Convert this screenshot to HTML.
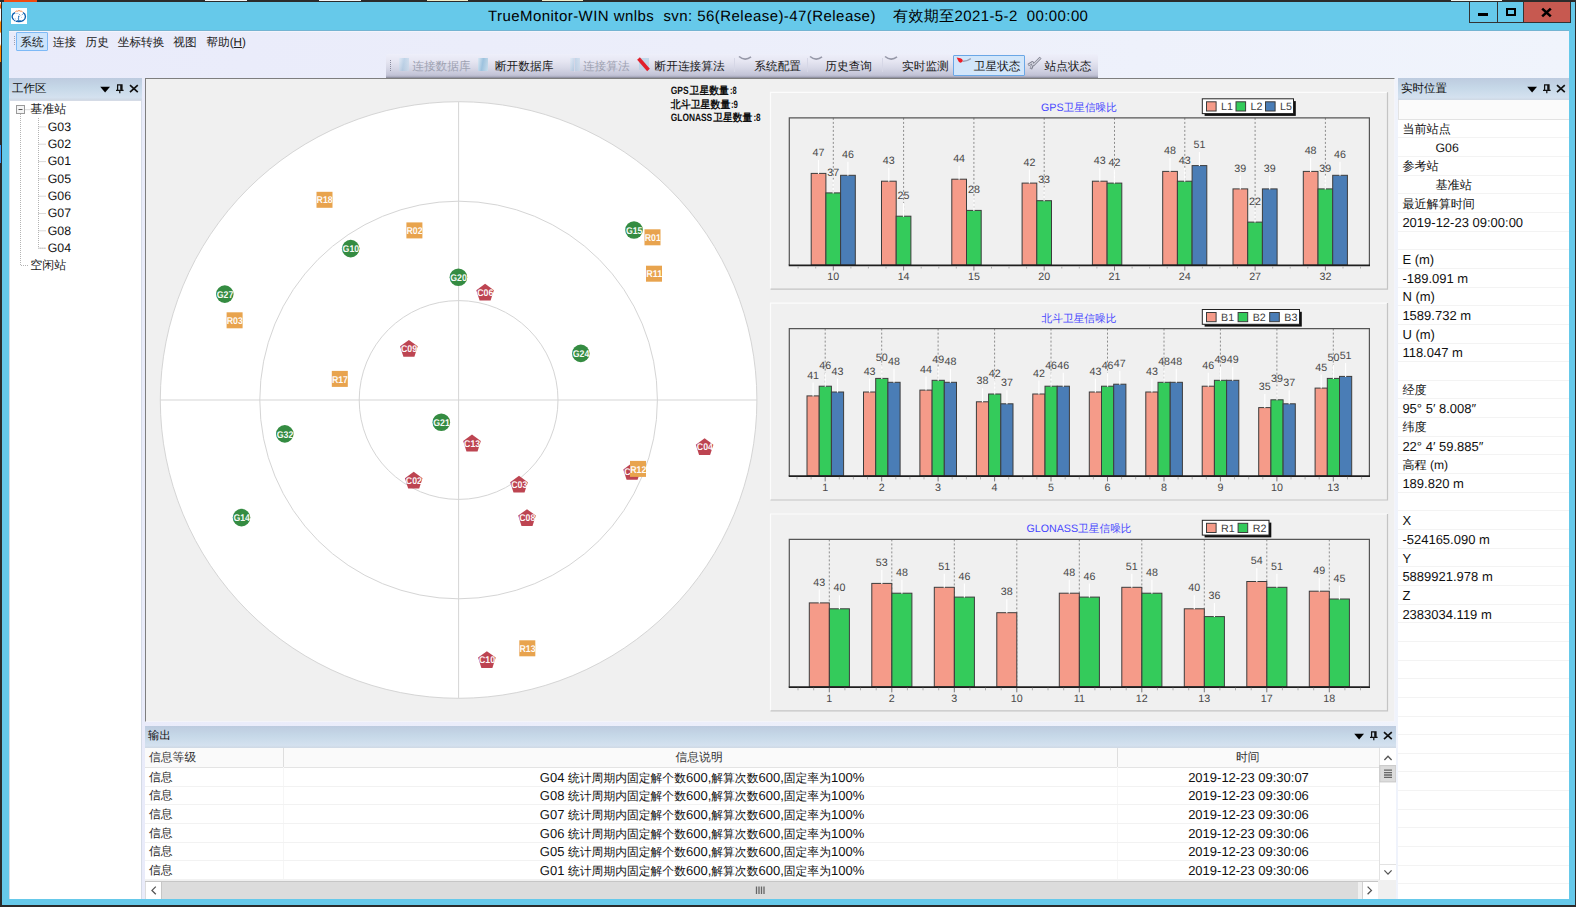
<!DOCTYPE html><html><head><meta charset="utf-8"><title>TrueMonitor-WIN</title>
<style>
html,body{margin:0;padding:0;}
body{width:1576px;height:907px;overflow:hidden;background:#2b2b2b;position:relative;
 font-family:"Liberation Sans",sans-serif;font-size:12px;color:#000;text-rendering:geometricPrecision;}
.a{position:absolute;}
.t{position:absolute;white-space:nowrap;line-height:1;}
.win{left:2px;top:2px;width:1573px;height:903px;background:#66C9EA;}
.client{left:9px;top:30.5px;width:1560px;height:868.5px;background:linear-gradient(90deg,#E9EBFA 0%,#ECEEFA 45%,#F0F4FC 100%);}
.hdr{height:21.5px;background:linear-gradient(180deg,#BDCBDF 0%,#C6D8E8 45%,#D4E1EF 88%,#CFD8E4 100%);}
.hdr .t{top:5.6px;font-size:11.5px;color:#111}
.row{position:absolute;left:0;right:0;border-bottom:1px solid #F3F3F3;box-sizing:border-box;}
svg{position:absolute;left:0;top:0;overflow:visible;}
svg text{font-family:"Liberation Sans",sans-serif;}
</style></head><body>
<div class="a" style="left:4px;top:0;width:32.5px;height:1.6px;background:#F04A10"></div>
<div class="a" style="left:204.6px;top:0;width:42.4px;height:1px;background:#F4F4F4"></div>
<div class="a" style="left:319px;top:0;width:42.0px;height:1px;background:#F4F4F4"></div>
<div class="a" style="left:427px;top:0;width:41.0px;height:1px;background:#EFEBC8"></div>
<div class="a" style="left:541.6px;top:0;width:41.1px;height:1px;background:#EFEBC8"></div>
<div class="a" style="left:1451px;top:0;width:51.0px;height:1px;background:#F2F4EE"></div>
<div class="a" style="left:0;top:2px;width:1px;height:60px;background:linear-gradient(180deg,#fff 0,#F60 6%,#F60 10%,#fff 12%,#fff 30%,#F80 34%,#F80 50%,#fff 52%,#fff 70%,#F80 74%,#F80 100%)"></div>
<div class="a" style="left:0;top:145px;width:1px;height:18px;background:#39f"></div>
<div class="a win"></div>
<div class="a client"></div>
<div class="a" style="left:9px;top:29.8px;width:1560px;height:1px;background:#74B4D2"></div>
<div class="a" style="left:9px;top:30.8px;width:1560px;height:1px;background:#F3F4FC"></div>
<svg class="a" style="left:11px;top:8px" width="16" height="16" viewBox="0 0 16 16"><rect width="16" height="16" fill="#fff"/><path d="M4.0 4.6 C0.2 6.2 0.2 10.6 3.6 12.5 C6 13.9 9.6 13.9 12 12.6 C15.4 10.7 15.2 6.2 11.9 4.5" fill="none" stroke="#0A5FAE" stroke-width="1.35" stroke-dasharray="9 0.6 1.2 0.5 1.5 0.4 30"/><path d="M4.2 4.0 Q5.5 2.6 6.6 3.2 Q8.0 1.9 9.2 3.1 Q10.6 3.0 11.6 3.9" fill="none" stroke="#F0803C" stroke-width="0.95"/><path d="M6 13.1 H9.9" stroke="#0A5FAE" stroke-width="1.5"/><path d="M7.6 8.2 V12.4 M7 8.3 H8.6" stroke="#2C77BC" stroke-width="0.9"/><circle cx="8.4" cy="6.5" r="0.55" fill="#5C97CE"/><circle cx="11.4" cy="6.5" r="0.55" fill="#5C97CE"/><path d="M4.4 5.4 H7.6 M9.4 7.6 L10.4 7.2 M10 9.6 L10.9 9.2 M4.2 10.2 L4.3 11.6 M6.4 10.4 L6.8 10.8" stroke="#9DC0E2" stroke-width="0.8" fill="none"/></svg>
<div class="t" id="ttl1" style="left:488px;top:8.7px;font-size:15px;letter-spacing:0.44px">TrueMonitor-WIN wnlbs&nbsp; svn: 56(Release)-47(Release)</div>
<div class="t" id="ttl2" style="left:893px;top:8.7px;font-size:15px;letter-spacing:0.39px">有效期至2021-5-2&nbsp; 00:00:00</div>
<div class="a" style="left:1469px;top:1.5px;width:101.5px;height:21.5px;background:#333"></div>
<div class="a" style="left:1470px;top:2px;width:27px;height:20px;background:#66C9EA"></div>
<div class="a" style="left:1498px;top:2px;width:25px;height:20px;background:#66C9EA"></div>
<div class="a" style="left:1523.5px;top:2px;width:46.5px;height:20px;background:#C75950"></div>
<div class="a" style="left:1478px;top:13px;width:10px;height:3px;background:#000"></div>
<div class="a" style="left:1506px;top:8px;width:10px;height:8px;box-sizing:border-box;border:2px solid #000"></div>
<svg class="a" style="left:1541px;top:7.5px" width="11" height="9" viewBox="0 0 11 9"><path d="M1.2 0.6 L9.8 8.4 M9.8 0.6 L1.2 8.4" stroke="#000" stroke-width="2.6"/></svg>
<div class="a" style="left:14px;top:36px;width:1px;height:9px;border-left:1px dotted #9aa0b4"></div>
<div class="a" style="left:15.7px;top:32.3px;width:32.6px;height:18.6px;box-sizing:border-box;background:#CCE4FC;border:1px solid #7DB9F6;border-radius:1px"></div>
<div class="t mn" style="left:20.2px;top:37.3px;font-size:11.7px;color:#222">系统</div>
<div class="t mn" style="left:52.800000000000004px;top:37.3px;font-size:11.7px;color:#222">连接</div>
<div class="t mn" style="left:85.5px;top:37.3px;font-size:11.7px;color:#222">历史</div>
<div class="t mn" style="left:117.7px;top:37.3px;font-size:11.7px;color:#222">坐标转换</div>
<div class="t mn" style="left:173.29999999999998px;top:37.3px;font-size:11.7px;color:#222">视图</div>
<div class="t mn" style="left:206.3px;top:37.3px;font-size:11.7px;color:#222">帮助(<u>H</u>)</div>
<div class="a" style="left:386px;top:54px;width:712px;height:24px;background:linear-gradient(180deg,#EEEFFA 0%,#E6E6F2 30%,#D6D7E6 60%,#C2C3D6 88%,#AAABBE 95%,#80818f 100%);border-radius:2px 2px 0 0"></div>
<div class="a" style="left:389.5px;top:60px;width:1px;height:11px;border-left:1px dotted #8a8c9e"></div>
<div class="a" style="left:953.4px;top:55px;width:71.3px;height:21px;box-sizing:border-box;background:#D2E6FA;border:1px solid #6AA7E6;border-radius:1px"></div>
<div class="t tbt" style="left:412.20000000000005px;top:61.2px;font-size:11.7px;color:#9ea2b2">连接数据库</div>
<div class="t tbt" style="left:494.90000000000003px;top:61.2px;font-size:11.7px;color:#1a1a1a">断开数据库</div>
<div class="t tbt" style="left:582.9px;top:61.2px;font-size:11.7px;color:#9ea2b2">连接算法</div>
<div class="t tbt" style="left:654.5px;top:61.2px;font-size:11.7px;color:#1a1a1a">断开连接算法</div>
<div class="t tbt" style="left:754.3000000000001px;top:61.2px;font-size:11.7px;color:#1a1a1a">系统配置</div>
<div class="t tbt" style="left:825.3000000000001px;top:61.2px;font-size:11.7px;color:#1a1a1a">历史查询</div>
<div class="t tbt" style="left:902.0px;top:61.2px;font-size:11.7px;color:#1a1a1a">实时监测</div>
<div class="t tbt" style="left:973.8000000000001px;top:61.2px;font-size:11.7px;color:#1a1a1a">卫星状态</div>
<div class="t tbt" style="left:1044.6px;top:61.2px;font-size:11.7px;color:#1a1a1a">站点状态</div>
<div class="a" style="left:399px;top:57.5px;width:10px;height:13px;opacity:0.55;background:linear-gradient(100deg,#DCE9F4 0%,#9DC2DE 45%,#C9DDEC 100%);"></div>
<div class="a" style="left:478px;top:57.5px;width:10px;height:13px;opacity:1;background:linear-gradient(100deg,#DCE9F4 0%,#9DC2DE 45%,#C9DDEC 100%);"></div>
<div class="a" style="left:570px;top:57.5px;width:10px;height:13px;opacity:0.5;background:linear-gradient(100deg,#DCE9F4 0%,#9DC2DE 45%,#C9DDEC 100%);"></div>
<svg class="a" style="left:636px;top:56px" width="16" height="16" viewBox="0 0 16 16"><rect x="3" y="2" width="10" height="12" fill="#B8D2E6" opacity=".8"/><path d="M2.5 2.5 L12.5 14" stroke="#E0202C" stroke-width="3.6"/></svg>
<svg class="a" style="left:737.5px;top:55px" width="14" height="8" viewBox="0 0 14 8"><path d="M1 1.5 Q7 6.5 13 1.8" fill="none" stroke="#9698a8" stroke-width="1.6"/></svg>
<svg class="a" style="left:808.5px;top:55px" width="14" height="8" viewBox="0 0 14 8"><path d="M1 1.5 Q7 6.5 13 1.8" fill="none" stroke="#9698a8" stroke-width="1.6"/></svg>
<svg class="a" style="left:883.5px;top:55px" width="14" height="8" viewBox="0 0 14 8"><path d="M1 1.5 Q7 6.5 13 1.8" fill="none" stroke="#9698a8" stroke-width="1.6"/></svg>
<svg class="a" style="left:956px;top:55.5px" width="16" height="9" viewBox="0 0 16 9"><path d="M6.5 5.2 Q10.5 5.6 14.8 2.6" fill="none" stroke="#9aa0b4" stroke-width="1.3"/><path d="M0.6 1.6 L4.5 2.2 Q8 3.6 6 6 Q4 7.6 2.6 5.6 Z" fill="#EE1C25"/></svg>
<svg class="a" style="left:1027px;top:56px" width="16" height="16" viewBox="0 0 16 16"><path d="M1.2 9.2 L5.4 6.4 L6.2 7.6 L3.8 13 M6 9.4 L13.6 1.6" fill="none" stroke="#7c7e8c" stroke-width="2.7" stroke-linejoin="round"/><path d="M1.6 9 L5.4 6.6 L5.8 7.6 L3.8 12.4 M6.2 9 L13.4 1.8" fill="none" stroke="#D4D5E0" stroke-width="1.1"/></svg>
<div class="a" style="left:573.8px;top:58px;width:1px;height:14px;background:#d6d7e6"></div>
<div class="a" style="left:734.0px;top:58px;width:1px;height:14px;background:#d6d7e6"></div>
<div class="a" style="left:806.5px;top:58px;width:1px;height:14px;background:#d6d7e6"></div>
<div class="a" style="left:881.5px;top:58px;width:1px;height:14px;background:#d6d7e6"></div>
<div class="a hdr" style="left:9px;top:78px;width:133px;"><div class="t" style="left:3px;">工作区</div><svg class="a" style="left:91px;top:5.5px" width="40" height="12" viewBox="0 0 40 12"><path d="M0.2 2.8 H10 L5.1 8.4 Z" fill="#000"/><path d="M17 0.9 H22 V5.8 M17.6 0.9 V5.8 M16 6.3 H23.6 M19.8 6.3 V9.3" fill="none" stroke="#111" stroke-width="1.25"/><rect x="20.2" y="0.9" width="1.8" height="5" fill="#111"/><path d="M30 1.2 L37.8 8.2 M37.8 1.2 L30 8.2" stroke="#111" stroke-width="1.7"/></svg></div>
<div class="a" style="left:9px;top:99.5px;width:133px;height:799.5px;background:#fff;box-sizing:border-box;border:1px solid #D5DBE6;border-bottom:none"></div>
<svg class="a" style="left:9px;top:78px" width="133" height="300"><path d="M11.5 36 V187.5 H20 M15.5 31.7 H21 M29.5 40 V170.2 H37" fill="none" stroke="#b4b4b4" stroke-width="1" stroke-dasharray="1 1"/><path d="M29.5 48.9 H37" stroke="#b4b4b4" stroke-width="1" stroke-dasharray="1 1"/><path d="M29.5 66.2 H37" stroke="#b4b4b4" stroke-width="1" stroke-dasharray="1 1"/><path d="M29.5 83.6 H37" stroke="#b4b4b4" stroke-width="1" stroke-dasharray="1 1"/><path d="M29.5 100.9 H37" stroke="#b4b4b4" stroke-width="1" stroke-dasharray="1 1"/><path d="M29.5 118.2 H37" stroke="#b4b4b4" stroke-width="1" stroke-dasharray="1 1"/><path d="M29.5 135.5 H37" stroke="#b4b4b4" stroke-width="1" stroke-dasharray="1 1"/><path d="M29.5 152.8 H37" stroke="#b4b4b4" stroke-width="1" stroke-dasharray="1 1"/><path d="M29.5 170.2 H37" stroke="#b4b4b4" stroke-width="1" stroke-dasharray="1 1"/><rect x="7.5" y="27.5" width="8" height="8" fill="#f4f4f4" stroke="#9a9a9a"/><path d="M9.5 31.5 H13.5" stroke="#555" stroke-width="1"/></svg>
<div class="t" style="left:30.3px;top:103.39999999999999px;font-size:12px;color:#222">基准站</div>
<div class="t trl" style="left:47.8px;top:120.7px;font-size:12.3px;color:#111">G03</div>
<div class="t trl" style="left:47.8px;top:138.0px;font-size:12.3px;color:#111">G02</div>
<div class="t trl" style="left:47.8px;top:155.4px;font-size:12.3px;color:#111">G01</div>
<div class="t trl" style="left:47.8px;top:172.7px;font-size:12.3px;color:#111">G05</div>
<div class="t trl" style="left:47.8px;top:190.0px;font-size:12.3px;color:#111">G06</div>
<div class="t trl" style="left:47.8px;top:207.3px;font-size:12.3px;color:#111">G07</div>
<div class="t trl" style="left:47.8px;top:224.6px;font-size:12.3px;color:#111">G08</div>
<div class="t trl" style="left:47.8px;top:242.0px;font-size:12.3px;color:#111">G04</div>
<div class="t" style="left:30.3px;top:259.3px;font-size:12px;color:#222">空闲站</div>
<div class="a hdr" style="left:1398px;top:78px;width:171px;"><div class="t" style="left:3px;">实时位置</div><svg class="a" style="left:129px;top:5.5px" width="40" height="12" viewBox="0 0 40 12"><path d="M0.2 2.8 H10 L5.1 8.4 Z" fill="#000"/><path d="M17 0.9 H22 V5.8 M17.6 0.9 V5.8 M16 6.3 H23.6 M19.8 6.3 V9.3" fill="none" stroke="#111" stroke-width="1.25"/><rect x="20.2" y="0.9" width="1.8" height="5" fill="#111"/><path d="M30 1.2 L37.8 8.2 M37.8 1.2 L30 8.2" stroke="#111" stroke-width="1.7"/></svg></div>
<div class="a" id="rp" style="left:1398px;top:99.5px;width:171px;height:799.5px;background:#fff;overflow:hidden">
<div class="a" style="left:0;top:0;width:171px;height:20.2px;box-sizing:border-box;background:#FBFBFB;border:1px solid #E3E3E3;border-top:none;border-right:none"></div>
<div class="row" style="top:20.25px;height:18.65px;"></div>
<div class="row" style="top:38.90px;height:18.65px;"></div>
<div class="row" style="top:57.55px;height:18.65px;"></div>
<div class="row" style="top:76.20px;height:18.65px;"></div>
<div class="row" style="top:94.85px;height:18.65px;"></div>
<div class="row" style="top:113.50px;height:18.65px;"></div>
<div class="row" style="top:132.15px;height:18.65px;"></div>
<div class="row" style="top:150.80px;height:18.65px;"></div>
<div class="row" style="top:169.45px;height:18.65px;"></div>
<div class="row" style="top:188.10px;height:18.65px;"></div>
<div class="row" style="top:206.75px;height:18.65px;"></div>
<div class="row" style="top:225.40px;height:18.65px;"></div>
<div class="row" style="top:244.05px;height:18.65px;"></div>
<div class="row" style="top:262.70px;height:18.65px;"></div>
<div class="row" style="top:281.35px;height:18.65px;"></div>
<div class="row" style="top:300.00px;height:18.65px;"></div>
<div class="row" style="top:318.65px;height:18.65px;"></div>
<div class="row" style="top:337.30px;height:18.65px;"></div>
<div class="row" style="top:355.95px;height:18.65px;"></div>
<div class="row" style="top:374.60px;height:18.65px;"></div>
<div class="row" style="top:393.25px;height:18.65px;"></div>
<div class="row" style="top:411.90px;height:18.65px;"></div>
<div class="row" style="top:430.55px;height:18.65px;"></div>
<div class="row" style="top:449.20px;height:18.65px;"></div>
<div class="row" style="top:467.85px;height:18.65px;"></div>
<div class="row" style="top:486.50px;height:18.65px;"></div>
<div class="row" style="top:505.15px;height:18.65px;"></div>
<div class="row" style="top:523.80px;height:18.65px;"></div>
<div class="row" style="top:542.45px;height:18.65px;"></div>
<div class="row" style="top:561.10px;height:18.65px;"></div>
<div class="row" style="top:579.75px;height:18.65px;"></div>
<div class="row" style="top:598.40px;height:18.65px;"></div>
<div class="row" style="top:617.05px;height:18.65px;"></div>
<div class="row" style="top:635.70px;height:18.65px;"></div>
<div class="row" style="top:654.35px;height:18.65px;"></div>
<div class="row" style="top:673.00px;height:18.65px;"></div>
<div class="row" style="top:691.65px;height:18.65px;"></div>
<div class="row" style="top:710.30px;height:18.65px;"></div>
<div class="row" style="top:728.95px;height:18.65px;"></div>
<div class="row" style="top:747.60px;height:18.65px;"></div>
<div class="row" style="top:766.25px;height:18.65px;"></div>
<div class="row" style="top:784.90px;height:18.65px;"></div>
<div class="row" style="top:803.55px;height:18.65px;"></div>
<div class="t rv" style="left:4.4px;top:23.5px;font-size:12.1px;color:#111">当前站点</div>
<div class="t rv" style="left:37.5px;top:42.1px;font-size:12.3px;color:#111">G06</div>
<div class="t rv" style="left:4.4px;top:60.8px;font-size:12.1px;color:#111">参考站</div>
<div class="t rv" style="left:37.5px;top:79.5px;font-size:12.1px;color:#111">基准站</div>
<div class="t rv" style="left:4.4px;top:98.1px;font-size:12.1px;color:#111">最近解算时间</div>
<div class="t rv" style="left:4.4px;top:116.3px;font-size:13.0px;color:#111">2019-12-23 09:00:00</div>
<div class="t rv" style="left:4.4px;top:153.6px;font-size:13.0px;color:#111">E (m)</div>
<div class="t rv" style="left:4.4px;top:172.3px;font-size:13.0px;color:#111">-189.091 m</div>
<div class="t rv" style="left:4.4px;top:190.9px;font-size:13.0px;color:#111">N (m)</div>
<div class="t rv" style="left:4.4px;top:209.6px;font-size:13.0px;color:#111">1589.732 m</div>
<div class="t rv" style="left:4.4px;top:228.2px;font-size:13.0px;color:#111">U (m)</div>
<div class="t rv" style="left:4.4px;top:246.9px;font-size:13.0px;color:#111">118.047 m</div>
<div class="t rv" style="left:4.4px;top:284.6px;font-size:12.1px;color:#111">经度</div>
<div class="t rv" style="left:4.4px;top:302.8px;font-size:13.0px;color:#111">95° 5′ 8.008″</div>
<div class="t rv" style="left:4.4px;top:321.9px;font-size:12.1px;color:#111">纬度</div>
<div class="t rv" style="left:4.4px;top:340.1px;font-size:13.0px;color:#111">22° 4′ 59.885″</div>
<div class="t rv" style="left:4.4px;top:359.2px;font-size:12.1px;color:#111">高程 (m)</div>
<div class="t rv" style="left:4.4px;top:377.4px;font-size:13.0px;color:#111">189.820 m</div>
<div class="t rv" style="left:4.4px;top:414.7px;font-size:13.0px;color:#111">X</div>
<div class="t rv" style="left:4.4px;top:433.4px;font-size:13.0px;color:#111">-524165.090 m</div>
<div class="t rv" style="left:4.4px;top:452.0px;font-size:13.0px;color:#111">Y</div>
<div class="t rv" style="left:4.4px;top:470.7px;font-size:13.0px;color:#111">5889921.978 m</div>
<div class="t rv" style="left:4.4px;top:489.3px;font-size:13.0px;color:#111">Z</div>
<div class="t rv" style="left:4.4px;top:508.0px;font-size:13.0px;color:#111">2383034.119 m</div>
</div>
<div class="a" style="left:145px;top:78px;width:1250px;height:644px;background:#F0F0F0;box-sizing:border-box;border-top:1.5px solid #7E7E7E;border-left:1.5px solid #7E7E7E;border-right:1px solid #F4F4F9;border-bottom:1px solid #F4F4F9"></div>
<svg width="1576" height="907" viewBox="0 0 1576 907"><circle cx="458.6" cy="400.0" r="298.3" fill="#fff" stroke="#D5D5D5" stroke-width="1"/><circle cx="458.6" cy="400.0" r="198.8" fill="none" stroke="#D5D5D5" stroke-width="1"/><circle cx="458.6" cy="400.0" r="99.4" fill="none" stroke="#D5D5D5" stroke-width="1"/><path d="M160.3 400.0 H756.9000000000001 M458.6 101.69999999999999 V698.3" stroke="#D5D5D5" stroke-width="1" fill="none"/><defs><clipPath id="k0"><rect x="316.5" y="191.8" width="16" height="16"/></clipPath><clipPath id="k1"><rect x="406.4" y="222.4" width="16" height="16"/></clipPath><clipPath id="k2"><circle cx="350.7" cy="248.6" r="8.8"/></clipPath><clipPath id="k3"><circle cx="458.4" cy="277.3" r="8.8"/></clipPath><clipPath id="k4"><circle cx="224.8" cy="294.1" r="8.8"/></clipPath><clipPath id="k5"><rect x="226.6" y="312.3" width="16" height="16"/></clipPath><clipPath id="k6"><rect x="400.3" y="339.3" width="17.2" height="17.5"/></clipPath><clipPath id="k7"><rect x="331.8" y="370.9" width="16" height="16"/></clipPath><clipPath id="k8"><circle cx="634.0" cy="230.0" r="8.8"/></clipPath><clipPath id="k9"><rect x="644.5" y="229.3" width="16" height="16"/></clipPath><clipPath id="k10"><rect x="646.0" y="265.7" width="16" height="16"/></clipPath><clipPath id="k11"><rect x="476.5" y="283.2" width="17.2" height="17.5"/></clipPath><clipPath id="k12"><circle cx="580.8" cy="353.4" r="8.8"/></clipPath><clipPath id="k13"><circle cx="441.3" cy="422.3" r="8.8"/></clipPath><clipPath id="k14"><circle cx="284.8" cy="433.9" r="8.8"/></clipPath><clipPath id="k15"><rect x="405.1" y="471.2" width="17.2" height="17.5"/></clipPath><clipPath id="k16"><circle cx="241.5" cy="517.6" r="8.8"/></clipPath><clipPath id="k17"><rect x="463.4" y="434.0" width="17.2" height="17.5"/></clipPath><clipPath id="k18"><rect x="696.0" y="437.7" width="17.2" height="17.5"/></clipPath><clipPath id="k19"><rect x="623.5" y="462.4" width="17.2" height="17.5"/></clipPath><clipPath id="k20"><rect x="630.0" y="460.9" width="16" height="16"/></clipPath><clipPath id="k21"><rect x="510.4" y="475.2" width="17.2" height="17.5"/></clipPath><clipPath id="k22"><rect x="518.4" y="508.6" width="17.2" height="17.5"/></clipPath><clipPath id="k23"><rect x="519.3" y="640.3" width="16" height="16"/></clipPath><clipPath id="k24"><rect x="478.3" y="650.6" width="17.2" height="17.5"/></clipPath></defs><rect x="316.5" y="191.8" width="16" height="16" fill="#E8A44E"/><text x="316.6" y="203.4" font-size="9.8" font-weight="bold" fill="#fff" textLength="16.1" lengthAdjust="spacingAndGlyphs" clip-path="url(#k0)" opacity=".95">R18</text><rect x="406.4" y="222.4" width="16" height="16" fill="#E8A44E"/><text x="406.5" y="234.0" font-size="9.8" font-weight="bold" fill="#fff" textLength="16.1" lengthAdjust="spacingAndGlyphs" clip-path="url(#k1)" opacity=".95">R02</text><circle cx="350.7" cy="248.6" r="8.8" fill="#358C42"/><text x="342.6" y="252.2" font-size="9.8" font-weight="bold" fill="#fff" textLength="16.6" lengthAdjust="spacingAndGlyphs" clip-path="url(#k2)" opacity=".95">G10</text><circle cx="458.4" cy="277.3" r="8.8" fill="#358C42"/><text x="450.3" y="280.9" font-size="9.8" font-weight="bold" fill="#fff" textLength="16.6" lengthAdjust="spacingAndGlyphs" clip-path="url(#k3)" opacity=".95">G20</text><circle cx="224.8" cy="294.1" r="8.8" fill="#358C42"/><text x="216.7" y="297.7" font-size="9.8" font-weight="bold" fill="#fff" textLength="16.6" lengthAdjust="spacingAndGlyphs" clip-path="url(#k4)" opacity=".95">G27</text><rect x="226.6" y="312.3" width="16" height="16" fill="#E8A44E"/><text x="226.7" y="323.9" font-size="9.8" font-weight="bold" fill="#fff" textLength="16.1" lengthAdjust="spacingAndGlyphs" clip-path="url(#k5)" opacity=".95">R03</text><polygon points="408.9,339.9 417.7,346.3 414.4,356.7 403.4,356.7 400.1,346.3" fill="#BD4552"/><text x="401.0" y="351.9" font-size="9.8" font-weight="bold" fill="#fff" textLength="16.1" lengthAdjust="spacingAndGlyphs" clip-path="url(#k6)" opacity=".95">C09</text><rect x="331.8" y="370.9" width="16" height="16" fill="#E8A44E"/><text x="331.9" y="382.5" font-size="9.8" font-weight="bold" fill="#fff" textLength="16.1" lengthAdjust="spacingAndGlyphs" clip-path="url(#k7)" opacity=".95">R17</text><circle cx="634.0" cy="230.0" r="8.8" fill="#358C42"/><text x="625.9" y="233.6" font-size="9.8" font-weight="bold" fill="#fff" textLength="16.6" lengthAdjust="spacingAndGlyphs" clip-path="url(#k8)" opacity=".95">G15</text><rect x="644.5" y="229.3" width="16" height="16" fill="#E8A44E"/><text x="644.7" y="240.9" font-size="9.8" font-weight="bold" fill="#fff" textLength="16.1" lengthAdjust="spacingAndGlyphs" clip-path="url(#k9)" opacity=".95">R01</text><rect x="646.0" y="265.7" width="16" height="16" fill="#E8A44E"/><text x="646.2" y="277.3" font-size="9.8" font-weight="bold" fill="#fff" textLength="16.1" lengthAdjust="spacingAndGlyphs" clip-path="url(#k10)" opacity=".95">R11</text><polygon points="485.1,283.8 493.9,290.2 490.6,300.6 479.6,300.6 476.3,290.2" fill="#BD4552"/><text x="477.2" y="295.8" font-size="9.8" font-weight="bold" fill="#fff" textLength="16.1" lengthAdjust="spacingAndGlyphs" clip-path="url(#k11)" opacity=".95">C06</text><circle cx="580.8" cy="353.4" r="8.8" fill="#358C42"/><text x="572.7" y="357.0" font-size="9.8" font-weight="bold" fill="#fff" textLength="16.6" lengthAdjust="spacingAndGlyphs" clip-path="url(#k12)" opacity=".95">G24</text><circle cx="441.3" cy="422.3" r="8.8" fill="#358C42"/><text x="433.2" y="425.9" font-size="9.8" font-weight="bold" fill="#fff" textLength="16.6" lengthAdjust="spacingAndGlyphs" clip-path="url(#k13)" opacity=".95">G21</text><circle cx="284.8" cy="433.9" r="8.8" fill="#358C42"/><text x="276.7" y="437.5" font-size="9.8" font-weight="bold" fill="#fff" textLength="16.6" lengthAdjust="spacingAndGlyphs" clip-path="url(#k14)" opacity=".95">G32</text><polygon points="413.7,471.8 422.5,478.2 419.2,488.6 408.2,488.6 404.9,478.2" fill="#BD4552"/><text x="405.8" y="483.8" font-size="9.8" font-weight="bold" fill="#fff" textLength="16.1" lengthAdjust="spacingAndGlyphs" clip-path="url(#k15)" opacity=".95">C02</text><circle cx="241.5" cy="517.6" r="8.8" fill="#358C42"/><text x="233.4" y="521.2" font-size="9.8" font-weight="bold" fill="#fff" textLength="16.6" lengthAdjust="spacingAndGlyphs" clip-path="url(#k16)" opacity=".95">G14</text><polygon points="472.0,434.6 480.8,441.0 477.5,451.4 466.5,451.4 463.2,441.0" fill="#BD4552"/><text x="464.1" y="446.6" font-size="9.8" font-weight="bold" fill="#fff" textLength="16.1" lengthAdjust="spacingAndGlyphs" clip-path="url(#k17)" opacity=".95">C13</text><polygon points="704.6,438.3 713.4,444.7 710.1,455.1 699.1,455.1 695.8,444.7" fill="#BD4552"/><text x="696.8" y="450.3" font-size="9.8" font-weight="bold" fill="#fff" textLength="16.1" lengthAdjust="spacingAndGlyphs" clip-path="url(#k18)" opacity=".95">C04</text><polygon points="632.1,463.0 640.9,469.4 637.6,479.8 626.6,479.8 623.3,469.4" fill="#BD4552"/><text x="624.3" y="475.0" font-size="9.8" font-weight="bold" fill="#fff" textLength="16.1" lengthAdjust="spacingAndGlyphs" clip-path="url(#k19)" opacity=".95">C01</text><rect x="630.0" y="460.9" width="16" height="16" fill="#E8A44E"/><text x="630.2" y="472.5" font-size="9.8" font-weight="bold" fill="#fff" textLength="16.1" lengthAdjust="spacingAndGlyphs" clip-path="url(#k20)" opacity=".95">R12</text><polygon points="519.0,475.8 527.8,482.2 524.5,492.6 513.5,492.6 510.2,482.2" fill="#BD4552"/><text x="511.2" y="487.8" font-size="9.8" font-weight="bold" fill="#fff" textLength="16.1" lengthAdjust="spacingAndGlyphs" clip-path="url(#k21)" opacity=".95">C03</text><polygon points="527.0,509.2 535.8,515.6 532.5,526.0 521.5,526.0 518.2,515.6" fill="#BD4552"/><text x="519.2" y="521.2" font-size="9.8" font-weight="bold" fill="#fff" textLength="16.1" lengthAdjust="spacingAndGlyphs" clip-path="url(#k22)" opacity=".95">C08</text><rect x="519.3" y="640.3" width="16" height="16" fill="#E8A44E"/><text x="519.5" y="651.9" font-size="9.8" font-weight="bold" fill="#fff" textLength="16.1" lengthAdjust="spacingAndGlyphs" clip-path="url(#k23)" opacity=".95">R13</text><polygon points="486.9,651.2 495.7,657.6 492.4,668.0 481.4,668.0 478.1,657.6" fill="#BD4552"/><text x="479.0" y="663.2" font-size="9.8" font-weight="bold" fill="#fff" textLength="16.1" lengthAdjust="spacingAndGlyphs" clip-path="url(#k24)" opacity=".95">C10</text></svg>
<svg width="1576" height="907" viewBox="0 0 1576 907"><text x="670.8" y="94.3" font-size="10.6" font-weight="bold" fill="#111" textLength="17.8" lengthAdjust="spacingAndGlyphs">GPS</text><text x="689.6" y="94.3" font-size="10.6" font-weight="bold" fill="#111" textLength="39.3" lengthAdjust="spacingAndGlyphs">卫星数量</text><text x="730.0" y="94.3" font-size="10.6" font-weight="bold" fill="#111" textLength="6.6" lengthAdjust="spacingAndGlyphs">:8</text><text x="670.8" y="107.9" font-size="10.6" font-weight="bold" fill="#111" textLength="59.5" lengthAdjust="spacingAndGlyphs">北斗卫星数量</text><text x="731.0" y="107.9" font-size="10.6" font-weight="bold" fill="#111" textLength="6.9" lengthAdjust="spacingAndGlyphs">:9</text><text x="670.8" y="121.2" font-size="10.6" font-weight="bold" fill="#111" textLength="41.4" lengthAdjust="spacingAndGlyphs">GLONASS</text><text x="713.3" y="121.2" font-size="10.6" font-weight="bold" fill="#111" textLength="38.9" lengthAdjust="spacingAndGlyphs">卫星数量</text><text x="753.4" y="121.2" font-size="10.6" font-weight="bold" fill="#111" textLength="7.2" lengthAdjust="spacingAndGlyphs">:8</text></svg>
<svg width="1576" height="907" viewBox="0 0 1576 907"><rect x="770.5" y="92.3" width="617.0" height="196.9" fill="#F0F0F0"/><path d="M770.5 289.2 V92.3 H1387.5" fill="none" stroke="#FCFCFC" stroke-width="1.2"/><path d="M770.5 289.2 H1387.5 V92.3" fill="none" stroke="#C4C4C4" stroke-width="1.2"/><path d="M833.3 117.9 V265.0" stroke="#8C8C8C" stroke-width="1" stroke-dasharray="2 2" fill="none"/><path d="M903.6 117.9 V265.0" stroke="#8C8C8C" stroke-width="1" stroke-dasharray="2 2" fill="none"/><path d="M973.9 117.9 V265.0" stroke="#8C8C8C" stroke-width="1" stroke-dasharray="2 2" fill="none"/><path d="M1044.2 117.9 V265.0" stroke="#8C8C8C" stroke-width="1" stroke-dasharray="2 2" fill="none"/><path d="M1114.5 117.9 V265.0" stroke="#8C8C8C" stroke-width="1" stroke-dasharray="2 2" fill="none"/><path d="M1184.8 117.9 V265.0" stroke="#8C8C8C" stroke-width="1" stroke-dasharray="2 2" fill="none"/><path d="M1255.1 117.9 V265.0" stroke="#8C8C8C" stroke-width="1" stroke-dasharray="2 2" fill="none"/><path d="M1325.4 117.9 V265.0" stroke="#8C8C8C" stroke-width="1" stroke-dasharray="2 2" fill="none"/><path d="M789.3 265.0 V117.9 H1369.4 V265.0" fill="none" stroke="#555555" stroke-width="1.2"/><rect x="811.2" y="173.4" width="14.7" height="91.6" fill="#F59B89" stroke="#3C3C3C" stroke-width="1"/><rect x="825.9" y="192.9" width="14.7" height="72.1" fill="#34CB5B" stroke="#3C3C3C" stroke-width="1"/><rect x="840.6" y="175.3" width="14.7" height="89.7" fill="#4A7DB6" stroke="#3C3C3C" stroke-width="1"/><rect x="881.5" y="181.2" width="14.7" height="83.8" fill="#F59B89" stroke="#3C3C3C" stroke-width="1"/><rect x="896.2" y="216.2" width="14.7" height="48.8" fill="#34CB5B" stroke="#3C3C3C" stroke-width="1"/><rect x="951.8" y="179.2" width="14.7" height="85.8" fill="#F59B89" stroke="#3C3C3C" stroke-width="1"/><rect x="966.5" y="210.4" width="14.7" height="54.6" fill="#34CB5B" stroke="#3C3C3C" stroke-width="1"/><rect x="1022.1" y="183.1" width="14.7" height="81.9" fill="#F59B89" stroke="#3C3C3C" stroke-width="1"/><rect x="1036.8" y="200.7" width="14.7" height="64.3" fill="#34CB5B" stroke="#3C3C3C" stroke-width="1"/><rect x="1092.4" y="181.2" width="14.7" height="83.8" fill="#F59B89" stroke="#3C3C3C" stroke-width="1"/><rect x="1107.1" y="183.1" width="14.7" height="81.9" fill="#34CB5B" stroke="#3C3C3C" stroke-width="1"/><rect x="1162.7" y="171.4" width="14.7" height="93.6" fill="#F59B89" stroke="#3C3C3C" stroke-width="1"/><rect x="1177.4" y="181.2" width="14.7" height="83.8" fill="#34CB5B" stroke="#3C3C3C" stroke-width="1"/><rect x="1192.1" y="165.6" width="14.7" height="99.4" fill="#4A7DB6" stroke="#3C3C3C" stroke-width="1"/><rect x="1233.0" y="188.9" width="14.7" height="76.1" fill="#F59B89" stroke="#3C3C3C" stroke-width="1"/><rect x="1247.7" y="222.1" width="14.7" height="42.9" fill="#34CB5B" stroke="#3C3C3C" stroke-width="1"/><rect x="1262.4" y="188.9" width="14.7" height="76.1" fill="#4A7DB6" stroke="#3C3C3C" stroke-width="1"/><rect x="1303.3" y="171.4" width="14.7" height="93.6" fill="#F59B89" stroke="#3C3C3C" stroke-width="1"/><rect x="1318.0" y="188.9" width="14.7" height="76.1" fill="#34CB5B" stroke="#3C3C3C" stroke-width="1"/><rect x="1332.7" y="175.3" width="14.7" height="89.7" fill="#4A7DB6" stroke="#3C3C3C" stroke-width="1"/><path d="M788.6999999999999 265.3 H1370.0" stroke="#1E1E1E" stroke-width="1.7"/><path d="M798.1 266.0 v2.5" stroke="#B0B0B0" stroke-width="1"/><path d="M815.7 266.0 v2.5" stroke="#B0B0B0" stroke-width="1"/><path d="M833.3 266.0 v4.5" stroke="#7A7A7A" stroke-width="1"/><path d="M850.9 266.0 v2.5" stroke="#B0B0B0" stroke-width="1"/><path d="M868.4 266.0 v2.5" stroke="#B0B0B0" stroke-width="1"/><path d="M886.0 266.0 v2.5" stroke="#B0B0B0" stroke-width="1"/><path d="M903.6 266.0 v4.5" stroke="#7A7A7A" stroke-width="1"/><path d="M921.2 266.0 v2.5" stroke="#B0B0B0" stroke-width="1"/><path d="M938.8 266.0 v2.5" stroke="#B0B0B0" stroke-width="1"/><path d="M956.3 266.0 v2.5" stroke="#B0B0B0" stroke-width="1"/><path d="M973.9 266.0 v4.5" stroke="#7A7A7A" stroke-width="1"/><path d="M991.5 266.0 v2.5" stroke="#B0B0B0" stroke-width="1"/><path d="M1009.0 266.0 v2.5" stroke="#B0B0B0" stroke-width="1"/><path d="M1026.6 266.0 v2.5" stroke="#B0B0B0" stroke-width="1"/><path d="M1044.2 266.0 v4.5" stroke="#7A7A7A" stroke-width="1"/><path d="M1061.8 266.0 v2.5" stroke="#B0B0B0" stroke-width="1"/><path d="M1079.3 266.0 v2.5" stroke="#B0B0B0" stroke-width="1"/><path d="M1096.9 266.0 v2.5" stroke="#B0B0B0" stroke-width="1"/><path d="M1114.5 266.0 v4.5" stroke="#7A7A7A" stroke-width="1"/><path d="M1132.1 266.0 v2.5" stroke="#B0B0B0" stroke-width="1"/><path d="M1149.6 266.0 v2.5" stroke="#B0B0B0" stroke-width="1"/><path d="M1167.2 266.0 v2.5" stroke="#B0B0B0" stroke-width="1"/><path d="M1184.8 266.0 v4.5" stroke="#7A7A7A" stroke-width="1"/><path d="M1202.4 266.0 v2.5" stroke="#B0B0B0" stroke-width="1"/><path d="M1219.9 266.0 v2.5" stroke="#B0B0B0" stroke-width="1"/><path d="M1237.5 266.0 v2.5" stroke="#B0B0B0" stroke-width="1"/><path d="M1255.1 266.0 v4.5" stroke="#7A7A7A" stroke-width="1"/><path d="M1272.7 266.0 v2.5" stroke="#B0B0B0" stroke-width="1"/><path d="M1290.2 266.0 v2.5" stroke="#B0B0B0" stroke-width="1"/><path d="M1307.8 266.0 v2.5" stroke="#B0B0B0" stroke-width="1"/><path d="M1325.4 266.0 v4.5" stroke="#7A7A7A" stroke-width="1"/><path d="M1343.0 266.0 v2.5" stroke="#B0B0B0" stroke-width="1"/><path d="M1360.5 266.0 v2.5" stroke="#B0B0B0" stroke-width="1"/><path d="M818.5 159.9 V173.9" stroke="#fff" stroke-width="1.15"/><text x="818.5" y="156.0" font-size="10.7" fill="#484848" text-anchor="middle">47</text><path d="M833.2 179.4 V193.4" stroke="#fff" stroke-width="1.15"/><text x="833.2" y="175.5" font-size="10.7" fill="#484848" text-anchor="middle">37</text><path d="M847.9 161.8 V175.8" stroke="#fff" stroke-width="1.15"/><text x="847.9" y="157.9" font-size="10.7" fill="#484848" text-anchor="middle">46</text><path d="M888.8 167.7 V181.7" stroke="#fff" stroke-width="1.15"/><text x="888.8" y="163.8" font-size="10.7" fill="#484848" text-anchor="middle">43</text><path d="M903.5 202.8 V216.8" stroke="#fff" stroke-width="1.15"/><text x="903.5" y="198.8" font-size="10.7" fill="#484848" text-anchor="middle">25</text><path d="M959.1 165.7 V179.7" stroke="#fff" stroke-width="1.15"/><text x="959.1" y="161.8" font-size="10.7" fill="#484848" text-anchor="middle">44</text><path d="M973.9 196.9 V210.9" stroke="#fff" stroke-width="1.15"/><text x="973.9" y="193.0" font-size="10.7" fill="#484848" text-anchor="middle">28</text><path d="M1029.4 169.6 V183.6" stroke="#fff" stroke-width="1.15"/><text x="1029.4" y="165.7" font-size="10.7" fill="#484848" text-anchor="middle">42</text><path d="M1044.1 187.2 V201.2" stroke="#fff" stroke-width="1.15"/><text x="1044.1" y="183.2" font-size="10.7" fill="#484848" text-anchor="middle">33</text><path d="M1099.8 167.7 V181.7" stroke="#fff" stroke-width="1.15"/><text x="1099.8" y="163.8" font-size="10.7" fill="#484848" text-anchor="middle">43</text><path d="M1114.4 169.6 V183.6" stroke="#fff" stroke-width="1.15"/><text x="1114.4" y="165.7" font-size="10.7" fill="#484848" text-anchor="middle">42</text><path d="M1170.0 157.9 V171.9" stroke="#fff" stroke-width="1.15"/><text x="1170.0" y="154.0" font-size="10.7" fill="#484848" text-anchor="middle">48</text><path d="M1184.7 167.7 V181.7" stroke="#fff" stroke-width="1.15"/><text x="1184.7" y="163.8" font-size="10.7" fill="#484848" text-anchor="middle">43</text><path d="M1199.4 152.1 V166.1" stroke="#fff" stroke-width="1.15"/><text x="1199.4" y="148.2" font-size="10.7" fill="#484848" text-anchor="middle">51</text><path d="M1240.3 175.4 V189.4" stroke="#fff" stroke-width="1.15"/><text x="1240.3" y="171.5" font-size="10.7" fill="#484848" text-anchor="middle">39</text><path d="M1255.0 208.6 V222.6" stroke="#fff" stroke-width="1.15"/><text x="1255.0" y="204.7" font-size="10.7" fill="#484848" text-anchor="middle">22</text><path d="M1269.7 175.4 V189.4" stroke="#fff" stroke-width="1.15"/><text x="1269.7" y="171.5" font-size="10.7" fill="#484848" text-anchor="middle">39</text><path d="M1310.6 157.9 V171.9" stroke="#fff" stroke-width="1.15"/><text x="1310.6" y="154.0" font-size="10.7" fill="#484848" text-anchor="middle">48</text><path d="M1325.3 175.4 V189.4" stroke="#fff" stroke-width="1.15"/><text x="1325.3" y="171.5" font-size="10.7" fill="#484848" text-anchor="middle">39</text><path d="M1340.0 161.8 V175.8" stroke="#fff" stroke-width="1.15"/><text x="1340.0" y="157.9" font-size="10.7" fill="#484848" text-anchor="middle">46</text><text x="833.3" y="279.7" font-size="10.7" fill="#484848" text-anchor="middle">10</text><text x="903.6" y="279.7" font-size="10.7" fill="#484848" text-anchor="middle">14</text><text x="973.9" y="279.7" font-size="10.7" fill="#484848" text-anchor="middle">15</text><text x="1044.2" y="279.7" font-size="10.7" fill="#484848" text-anchor="middle">20</text><text x="1114.5" y="279.7" font-size="10.7" fill="#484848" text-anchor="middle">21</text><text x="1184.8" y="279.7" font-size="10.7" fill="#484848" text-anchor="middle">24</text><text x="1255.1" y="279.7" font-size="10.7" fill="#484848" text-anchor="middle">27</text><text x="1325.4" y="279.7" font-size="10.7" fill="#484848" text-anchor="middle">32</text><text x="1079" y="110.9" font-size="10.7" fill="#4646FF" text-anchor="middle">GPS卫星信噪比</text><rect x="1204.6" y="101.1" width="91.2" height="14.8" fill="#111"/><rect x="1202.3" y="98.8" width="91.2" height="14.8" fill="#fff" stroke="#222" stroke-width="1"/><rect x="1206.5" y="101.8" width="9.6" height="9.2" fill="#F59B89" stroke="#3C3C3C" stroke-width="1"/><text x="1221.1" y="110.4" font-size="10.7" fill="#404040">L1</text><rect x="1236.0" y="101.8" width="9.6" height="9.2" fill="#34CB5B" stroke="#3C3C3C" stroke-width="1"/><text x="1250.6" y="110.4" font-size="10.7" fill="#404040">L2</text><rect x="1265.5" y="101.8" width="9.6" height="9.2" fill="#4A7DB6" stroke="#3C3C3C" stroke-width="1"/><text x="1280.1" y="110.4" font-size="10.7" fill="#404040">L5</text></svg>
<svg width="1576" height="907" viewBox="0 0 1576 907"><rect x="770.5" y="303.15" width="617.0" height="196.9" fill="#F0F0F0"/><path d="M770.5 500.0 V303.1 H1387.5" fill="none" stroke="#FCFCFC" stroke-width="1.2"/><path d="M770.5 500.0 H1387.5 V303.1" fill="none" stroke="#C4C4C4" stroke-width="1.2"/><path d="M825.2 328.6 V475.9" stroke="#8C8C8C" stroke-width="1" stroke-dasharray="2 2" fill="none"/><path d="M881.7 328.6 V475.9" stroke="#8C8C8C" stroke-width="1" stroke-dasharray="2 2" fill="none"/><path d="M938.1 328.6 V475.9" stroke="#8C8C8C" stroke-width="1" stroke-dasharray="2 2" fill="none"/><path d="M994.6 328.6 V475.9" stroke="#8C8C8C" stroke-width="1" stroke-dasharray="2 2" fill="none"/><path d="M1051.0 328.6 V475.9" stroke="#8C8C8C" stroke-width="1" stroke-dasharray="2 2" fill="none"/><path d="M1107.5 328.6 V475.9" stroke="#8C8C8C" stroke-width="1" stroke-dasharray="2 2" fill="none"/><path d="M1164.0 328.6 V475.9" stroke="#8C8C8C" stroke-width="1" stroke-dasharray="2 2" fill="none"/><path d="M1220.4 328.6 V475.9" stroke="#8C8C8C" stroke-width="1" stroke-dasharray="2 2" fill="none"/><path d="M1276.9 328.6 V475.9" stroke="#8C8C8C" stroke-width="1" stroke-dasharray="2 2" fill="none"/><path d="M1333.3 328.6 V475.9" stroke="#8C8C8C" stroke-width="1" stroke-dasharray="2 2" fill="none"/><path d="M789.3 475.9 V328.6 H1369.4 V475.9" fill="none" stroke="#555555" stroke-width="1.2"/><rect x="807.0" y="395.9" width="12.2" height="79.9" fill="#F59B89" stroke="#3C3C3C" stroke-width="1"/><rect x="819.2" y="386.2" width="12.2" height="89.7" fill="#34CB5B" stroke="#3C3C3C" stroke-width="1"/><rect x="831.4" y="392.0" width="12.2" height="83.9" fill="#4A7DB6" stroke="#3C3C3C" stroke-width="1"/><rect x="863.5" y="392.0" width="12.2" height="83.9" fill="#F59B89" stroke="#3C3C3C" stroke-width="1"/><rect x="875.7" y="378.4" width="12.2" height="97.5" fill="#34CB5B" stroke="#3C3C3C" stroke-width="1"/><rect x="887.9" y="382.3" width="12.2" height="93.6" fill="#4A7DB6" stroke="#3C3C3C" stroke-width="1"/><rect x="919.9" y="390.1" width="12.2" height="85.8" fill="#F59B89" stroke="#3C3C3C" stroke-width="1"/><rect x="932.1" y="380.3" width="12.2" height="95.6" fill="#34CB5B" stroke="#3C3C3C" stroke-width="1"/><rect x="944.3" y="382.3" width="12.2" height="93.6" fill="#4A7DB6" stroke="#3C3C3C" stroke-width="1"/><rect x="976.4" y="401.8" width="12.2" height="74.1" fill="#F59B89" stroke="#3C3C3C" stroke-width="1"/><rect x="988.6" y="394.0" width="12.2" height="81.9" fill="#34CB5B" stroke="#3C3C3C" stroke-width="1"/><rect x="1000.8" y="403.8" width="12.2" height="72.1" fill="#4A7DB6" stroke="#3C3C3C" stroke-width="1"/><rect x="1032.8" y="394.0" width="12.2" height="81.9" fill="#F59B89" stroke="#3C3C3C" stroke-width="1"/><rect x="1045.0" y="386.2" width="12.2" height="89.7" fill="#34CB5B" stroke="#3C3C3C" stroke-width="1"/><rect x="1057.2" y="386.2" width="12.2" height="89.7" fill="#4A7DB6" stroke="#3C3C3C" stroke-width="1"/><rect x="1089.3" y="392.0" width="12.2" height="83.9" fill="#F59B89" stroke="#3C3C3C" stroke-width="1"/><rect x="1101.5" y="386.2" width="12.2" height="89.7" fill="#34CB5B" stroke="#3C3C3C" stroke-width="1"/><rect x="1113.7" y="384.2" width="12.2" height="91.6" fill="#4A7DB6" stroke="#3C3C3C" stroke-width="1"/><rect x="1145.8" y="392.0" width="12.2" height="83.9" fill="#F59B89" stroke="#3C3C3C" stroke-width="1"/><rect x="1158.0" y="382.3" width="12.2" height="93.6" fill="#34CB5B" stroke="#3C3C3C" stroke-width="1"/><rect x="1170.2" y="382.3" width="12.2" height="93.6" fill="#4A7DB6" stroke="#3C3C3C" stroke-width="1"/><rect x="1202.2" y="386.2" width="12.2" height="89.7" fill="#F59B89" stroke="#3C3C3C" stroke-width="1"/><rect x="1214.4" y="380.3" width="12.2" height="95.6" fill="#34CB5B" stroke="#3C3C3C" stroke-width="1"/><rect x="1226.6" y="380.3" width="12.2" height="95.6" fill="#4A7DB6" stroke="#3C3C3C" stroke-width="1"/><rect x="1258.7" y="407.6" width="12.2" height="68.2" fill="#F59B89" stroke="#3C3C3C" stroke-width="1"/><rect x="1270.9" y="399.8" width="12.2" height="76.1" fill="#34CB5B" stroke="#3C3C3C" stroke-width="1"/><rect x="1283.1" y="403.8" width="12.2" height="72.1" fill="#4A7DB6" stroke="#3C3C3C" stroke-width="1"/><rect x="1315.1" y="388.1" width="12.2" height="87.8" fill="#F59B89" stroke="#3C3C3C" stroke-width="1"/><rect x="1327.3" y="378.4" width="12.2" height="97.5" fill="#34CB5B" stroke="#3C3C3C" stroke-width="1"/><rect x="1339.5" y="376.4" width="12.2" height="99.4" fill="#4A7DB6" stroke="#3C3C3C" stroke-width="1"/><path d="M788.6999999999999 476.2 H1370.0" stroke="#1E1E1E" stroke-width="1.7"/><path d="M797.0 476.9 v2.5" stroke="#B0B0B0" stroke-width="1"/><path d="M811.1 476.9 v2.5" stroke="#B0B0B0" stroke-width="1"/><path d="M825.2 476.9 v4.5" stroke="#7A7A7A" stroke-width="1"/><path d="M839.3 476.9 v2.5" stroke="#B0B0B0" stroke-width="1"/><path d="M853.4 476.9 v2.5" stroke="#B0B0B0" stroke-width="1"/><path d="M867.5 476.9 v2.5" stroke="#B0B0B0" stroke-width="1"/><path d="M881.7 476.9 v4.5" stroke="#7A7A7A" stroke-width="1"/><path d="M895.8 476.9 v2.5" stroke="#B0B0B0" stroke-width="1"/><path d="M909.9 476.9 v2.5" stroke="#B0B0B0" stroke-width="1"/><path d="M924.0 476.9 v2.5" stroke="#B0B0B0" stroke-width="1"/><path d="M938.1 476.9 v4.5" stroke="#7A7A7A" stroke-width="1"/><path d="M952.2 476.9 v2.5" stroke="#B0B0B0" stroke-width="1"/><path d="M966.4 476.9 v2.5" stroke="#B0B0B0" stroke-width="1"/><path d="M980.5 476.9 v2.5" stroke="#B0B0B0" stroke-width="1"/><path d="M994.6 476.9 v4.5" stroke="#7A7A7A" stroke-width="1"/><path d="M1008.7 476.9 v2.5" stroke="#B0B0B0" stroke-width="1"/><path d="M1022.8 476.9 v2.5" stroke="#B0B0B0" stroke-width="1"/><path d="M1036.9 476.9 v2.5" stroke="#B0B0B0" stroke-width="1"/><path d="M1051.0 476.9 v4.5" stroke="#7A7A7A" stroke-width="1"/><path d="M1065.2 476.9 v2.5" stroke="#B0B0B0" stroke-width="1"/><path d="M1079.3 476.9 v2.5" stroke="#B0B0B0" stroke-width="1"/><path d="M1093.4 476.9 v2.5" stroke="#B0B0B0" stroke-width="1"/><path d="M1107.5 476.9 v4.5" stroke="#7A7A7A" stroke-width="1"/><path d="M1121.6 476.9 v2.5" stroke="#B0B0B0" stroke-width="1"/><path d="M1135.7 476.9 v2.5" stroke="#B0B0B0" stroke-width="1"/><path d="M1149.8 476.9 v2.5" stroke="#B0B0B0" stroke-width="1"/><path d="M1164.0 476.9 v4.5" stroke="#7A7A7A" stroke-width="1"/><path d="M1178.1 476.9 v2.5" stroke="#B0B0B0" stroke-width="1"/><path d="M1192.2 476.9 v2.5" stroke="#B0B0B0" stroke-width="1"/><path d="M1206.3 476.9 v2.5" stroke="#B0B0B0" stroke-width="1"/><path d="M1220.4 476.9 v4.5" stroke="#7A7A7A" stroke-width="1"/><path d="M1234.5 476.9 v2.5" stroke="#B0B0B0" stroke-width="1"/><path d="M1248.7 476.9 v2.5" stroke="#B0B0B0" stroke-width="1"/><path d="M1262.8 476.9 v2.5" stroke="#B0B0B0" stroke-width="1"/><path d="M1276.9 476.9 v4.5" stroke="#7A7A7A" stroke-width="1"/><path d="M1291.0 476.9 v2.5" stroke="#B0B0B0" stroke-width="1"/><path d="M1305.1 476.9 v2.5" stroke="#B0B0B0" stroke-width="1"/><path d="M1319.2 476.9 v2.5" stroke="#B0B0B0" stroke-width="1"/><path d="M1333.3 476.9 v4.5" stroke="#7A7A7A" stroke-width="1"/><path d="M1347.5 476.9 v2.5" stroke="#B0B0B0" stroke-width="1"/><path d="M1361.6 476.9 v2.5" stroke="#B0B0B0" stroke-width="1"/><path d="M813.1 382.4 V396.4" stroke="#fff" stroke-width="1.15"/><text x="813.1" y="378.6" font-size="10.7" fill="#484848" text-anchor="middle">41</text><path d="M825.3 372.7 V386.7" stroke="#fff" stroke-width="1.15"/><text x="825.3" y="368.8" font-size="10.7" fill="#484848" text-anchor="middle">46</text><path d="M837.5 378.5 V392.5" stroke="#fff" stroke-width="1.15"/><text x="837.5" y="374.6" font-size="10.7" fill="#484848" text-anchor="middle">43</text><path d="M869.6 378.5 V392.5" stroke="#fff" stroke-width="1.15"/><text x="869.6" y="374.6" font-size="10.7" fill="#484848" text-anchor="middle">43</text><path d="M881.8 364.9 V378.9" stroke="#fff" stroke-width="1.15"/><text x="881.8" y="361.0" font-size="10.7" fill="#484848" text-anchor="middle">50</text><path d="M894.0 368.8 V382.8" stroke="#fff" stroke-width="1.15"/><text x="894.0" y="364.9" font-size="10.7" fill="#484848" text-anchor="middle">48</text><path d="M926.0 376.6 V390.6" stroke="#fff" stroke-width="1.15"/><text x="926.0" y="372.7" font-size="10.7" fill="#484848" text-anchor="middle">44</text><path d="M938.2 366.8 V380.8" stroke="#fff" stroke-width="1.15"/><text x="938.2" y="362.9" font-size="10.7" fill="#484848" text-anchor="middle">49</text><path d="M950.4 368.8 V382.8" stroke="#fff" stroke-width="1.15"/><text x="950.4" y="364.9" font-size="10.7" fill="#484848" text-anchor="middle">48</text><path d="M982.5 388.3 V402.3" stroke="#fff" stroke-width="1.15"/><text x="982.5" y="384.4" font-size="10.7" fill="#484848" text-anchor="middle">38</text><path d="M994.7 380.5 V394.5" stroke="#fff" stroke-width="1.15"/><text x="994.7" y="376.6" font-size="10.7" fill="#484848" text-anchor="middle">42</text><path d="M1006.9 390.2 V404.2" stroke="#fff" stroke-width="1.15"/><text x="1006.9" y="386.4" font-size="10.7" fill="#484848" text-anchor="middle">37</text><path d="M1038.9 380.5 V394.5" stroke="#fff" stroke-width="1.15"/><text x="1038.9" y="376.6" font-size="10.7" fill="#484848" text-anchor="middle">42</text><path d="M1051.1 372.7 V386.7" stroke="#fff" stroke-width="1.15"/><text x="1051.1" y="368.8" font-size="10.7" fill="#484848" text-anchor="middle">46</text><path d="M1063.3 372.7 V386.7" stroke="#fff" stroke-width="1.15"/><text x="1063.3" y="368.8" font-size="10.7" fill="#484848" text-anchor="middle">46</text><path d="M1095.4 378.5 V392.5" stroke="#fff" stroke-width="1.15"/><text x="1095.4" y="374.6" font-size="10.7" fill="#484848" text-anchor="middle">43</text><path d="M1107.6 372.7 V386.7" stroke="#fff" stroke-width="1.15"/><text x="1107.6" y="368.8" font-size="10.7" fill="#484848" text-anchor="middle">46</text><path d="M1119.8 370.8 V384.8" stroke="#fff" stroke-width="1.15"/><text x="1119.8" y="366.9" font-size="10.7" fill="#484848" text-anchor="middle">47</text><path d="M1151.9 378.5 V392.5" stroke="#fff" stroke-width="1.15"/><text x="1151.9" y="374.6" font-size="10.7" fill="#484848" text-anchor="middle">43</text><path d="M1164.1 368.8 V382.8" stroke="#fff" stroke-width="1.15"/><text x="1164.1" y="364.9" font-size="10.7" fill="#484848" text-anchor="middle">48</text><path d="M1176.3 368.8 V382.8" stroke="#fff" stroke-width="1.15"/><text x="1176.3" y="364.9" font-size="10.7" fill="#484848" text-anchor="middle">48</text><path d="M1208.3 372.7 V386.7" stroke="#fff" stroke-width="1.15"/><text x="1208.3" y="368.8" font-size="10.7" fill="#484848" text-anchor="middle">46</text><path d="M1220.5 366.8 V380.8" stroke="#fff" stroke-width="1.15"/><text x="1220.5" y="362.9" font-size="10.7" fill="#484848" text-anchor="middle">49</text><path d="M1232.7 366.8 V380.8" stroke="#fff" stroke-width="1.15"/><text x="1232.7" y="362.9" font-size="10.7" fill="#484848" text-anchor="middle">49</text><path d="M1264.8 394.1 V408.1" stroke="#fff" stroke-width="1.15"/><text x="1264.8" y="390.2" font-size="10.7" fill="#484848" text-anchor="middle">35</text><path d="M1277.0 386.3 V400.3" stroke="#fff" stroke-width="1.15"/><text x="1277.0" y="382.4" font-size="10.7" fill="#484848" text-anchor="middle">39</text><path d="M1289.2 390.2 V404.2" stroke="#fff" stroke-width="1.15"/><text x="1289.2" y="386.4" font-size="10.7" fill="#484848" text-anchor="middle">37</text><path d="M1321.2 374.6 V388.6" stroke="#fff" stroke-width="1.15"/><text x="1321.2" y="370.8" font-size="10.7" fill="#484848" text-anchor="middle">45</text><path d="M1333.4 364.9 V378.9" stroke="#fff" stroke-width="1.15"/><text x="1333.4" y="361.0" font-size="10.7" fill="#484848" text-anchor="middle">50</text><path d="M1345.6 362.9 V376.9" stroke="#fff" stroke-width="1.15"/><text x="1345.6" y="359.1" font-size="10.7" fill="#484848" text-anchor="middle">51</text><text x="825.2" y="490.6" font-size="10.7" fill="#484848" text-anchor="middle">1</text><text x="881.7" y="490.6" font-size="10.7" fill="#484848" text-anchor="middle">2</text><text x="938.1" y="490.6" font-size="10.7" fill="#484848" text-anchor="middle">3</text><text x="994.6" y="490.6" font-size="10.7" fill="#484848" text-anchor="middle">4</text><text x="1051.0" y="490.6" font-size="10.7" fill="#484848" text-anchor="middle">5</text><text x="1107.5" y="490.6" font-size="10.7" fill="#484848" text-anchor="middle">6</text><text x="1164.0" y="490.6" font-size="10.7" fill="#484848" text-anchor="middle">8</text><text x="1220.4" y="490.6" font-size="10.7" fill="#484848" text-anchor="middle">9</text><text x="1276.9" y="490.6" font-size="10.7" fill="#484848" text-anchor="middle">10</text><text x="1333.3" y="490.6" font-size="10.7" fill="#484848" text-anchor="middle">13</text><text x="1079" y="321.6" font-size="10.7" fill="#4646FF" text-anchor="middle">北斗卫星信噪比</text><rect x="1204.6" y="311.8" width="97.2" height="14.8" fill="#111"/><rect x="1202.3" y="309.5" width="97.2" height="14.8" fill="#fff" stroke="#222" stroke-width="1"/><rect x="1206.5" y="312.5" width="9.6" height="9.2" fill="#F59B89" stroke="#3C3C3C" stroke-width="1"/><text x="1221.1" y="321.1" font-size="10.7" fill="#404040">B1</text><rect x="1238.1" y="312.5" width="9.6" height="9.2" fill="#34CB5B" stroke="#3C3C3C" stroke-width="1"/><text x="1252.7" y="321.1" font-size="10.7" fill="#404040">B2</text><rect x="1269.7" y="312.5" width="9.6" height="9.2" fill="#4A7DB6" stroke="#3C3C3C" stroke-width="1"/><text x="1284.3" y="321.1" font-size="10.7" fill="#404040">B3</text></svg>
<svg width="1576" height="907" viewBox="0 0 1576 907"><rect x="770.5" y="514.0" width="617.0" height="196.9" fill="#F0F0F0"/><path d="M770.5 710.9 V514.0 H1387.5" fill="none" stroke="#FCFCFC" stroke-width="1.2"/><path d="M770.5 710.9 H1387.5 V514.0" fill="none" stroke="#C4C4C4" stroke-width="1.2"/><path d="M829.3 539.4 V686.8" stroke="#8C8C8C" stroke-width="1" stroke-dasharray="2 2" fill="none"/><path d="M891.8 539.4 V686.8" stroke="#8C8C8C" stroke-width="1" stroke-dasharray="2 2" fill="none"/><path d="M954.3 539.4 V686.8" stroke="#8C8C8C" stroke-width="1" stroke-dasharray="2 2" fill="none"/><path d="M1016.8 539.4 V686.8" stroke="#8C8C8C" stroke-width="1" stroke-dasharray="2 2" fill="none"/><path d="M1079.3 539.4 V686.8" stroke="#8C8C8C" stroke-width="1" stroke-dasharray="2 2" fill="none"/><path d="M1141.8 539.4 V686.8" stroke="#8C8C8C" stroke-width="1" stroke-dasharray="2 2" fill="none"/><path d="M1204.3 539.4 V686.8" stroke="#8C8C8C" stroke-width="1" stroke-dasharray="2 2" fill="none"/><path d="M1266.8 539.4 V686.8" stroke="#8C8C8C" stroke-width="1" stroke-dasharray="2 2" fill="none"/><path d="M1329.3 539.4 V686.8" stroke="#8C8C8C" stroke-width="1" stroke-dasharray="2 2" fill="none"/><path d="M789.3 686.8 V539.4 H1369.4 V686.8" fill="none" stroke="#555555" stroke-width="1.2"/><rect x="809.3" y="602.9" width="20.0" height="83.9" fill="#F59B89" stroke="#3C3C3C" stroke-width="1"/><rect x="829.4" y="608.8" width="20.0" height="78.0" fill="#34CB5B" stroke="#3C3C3C" stroke-width="1"/><rect x="871.8" y="583.4" width="20.0" height="103.4" fill="#F59B89" stroke="#3C3C3C" stroke-width="1"/><rect x="891.9" y="593.2" width="20.0" height="93.6" fill="#34CB5B" stroke="#3C3C3C" stroke-width="1"/><rect x="934.3" y="587.3" width="20.0" height="99.5" fill="#F59B89" stroke="#3C3C3C" stroke-width="1"/><rect x="954.4" y="597.1" width="20.0" height="89.7" fill="#34CB5B" stroke="#3C3C3C" stroke-width="1"/><rect x="996.8" y="612.7" width="20.0" height="74.1" fill="#F59B89" stroke="#3C3C3C" stroke-width="1"/><rect x="1059.3" y="593.2" width="20.0" height="93.6" fill="#F59B89" stroke="#3C3C3C" stroke-width="1"/><rect x="1079.4" y="597.1" width="20.0" height="89.7" fill="#34CB5B" stroke="#3C3C3C" stroke-width="1"/><rect x="1121.8" y="587.3" width="20.0" height="99.5" fill="#F59B89" stroke="#3C3C3C" stroke-width="1"/><rect x="1141.9" y="593.2" width="20.0" height="93.6" fill="#34CB5B" stroke="#3C3C3C" stroke-width="1"/><rect x="1184.3" y="608.8" width="20.0" height="78.0" fill="#F59B89" stroke="#3C3C3C" stroke-width="1"/><rect x="1204.4" y="616.6" width="20.0" height="70.2" fill="#34CB5B" stroke="#3C3C3C" stroke-width="1"/><rect x="1246.8" y="581.5" width="20.0" height="105.3" fill="#F59B89" stroke="#3C3C3C" stroke-width="1"/><rect x="1266.9" y="587.3" width="20.0" height="99.5" fill="#34CB5B" stroke="#3C3C3C" stroke-width="1"/><rect x="1309.3" y="591.2" width="20.0" height="95.5" fill="#F59B89" stroke="#3C3C3C" stroke-width="1"/><rect x="1329.4" y="599.0" width="20.0" height="87.8" fill="#34CB5B" stroke="#3C3C3C" stroke-width="1"/><path d="M788.6999999999999 687.1 H1370.0" stroke="#1E1E1E" stroke-width="1.7"/><path d="M798.0 687.8 v2.5" stroke="#B0B0B0" stroke-width="1"/><path d="M813.7 687.8 v2.5" stroke="#B0B0B0" stroke-width="1"/><path d="M829.3 687.8 v4.5" stroke="#7A7A7A" stroke-width="1"/><path d="M844.9 687.8 v2.5" stroke="#B0B0B0" stroke-width="1"/><path d="M860.5 687.8 v2.5" stroke="#B0B0B0" stroke-width="1"/><path d="M876.2 687.8 v2.5" stroke="#B0B0B0" stroke-width="1"/><path d="M891.8 687.8 v4.5" stroke="#7A7A7A" stroke-width="1"/><path d="M907.4 687.8 v2.5" stroke="#B0B0B0" stroke-width="1"/><path d="M923.0 687.8 v2.5" stroke="#B0B0B0" stroke-width="1"/><path d="M938.7 687.8 v2.5" stroke="#B0B0B0" stroke-width="1"/><path d="M954.3 687.8 v4.5" stroke="#7A7A7A" stroke-width="1"/><path d="M969.9 687.8 v2.5" stroke="#B0B0B0" stroke-width="1"/><path d="M985.5 687.8 v2.5" stroke="#B0B0B0" stroke-width="1"/><path d="M1001.2 687.8 v2.5" stroke="#B0B0B0" stroke-width="1"/><path d="M1016.8 687.8 v4.5" stroke="#7A7A7A" stroke-width="1"/><path d="M1032.4 687.8 v2.5" stroke="#B0B0B0" stroke-width="1"/><path d="M1048.0 687.8 v2.5" stroke="#B0B0B0" stroke-width="1"/><path d="M1063.7 687.8 v2.5" stroke="#B0B0B0" stroke-width="1"/><path d="M1079.3 687.8 v4.5" stroke="#7A7A7A" stroke-width="1"/><path d="M1094.9 687.8 v2.5" stroke="#B0B0B0" stroke-width="1"/><path d="M1110.5 687.8 v2.5" stroke="#B0B0B0" stroke-width="1"/><path d="M1126.2 687.8 v2.5" stroke="#B0B0B0" stroke-width="1"/><path d="M1141.8 687.8 v4.5" stroke="#7A7A7A" stroke-width="1"/><path d="M1157.4 687.8 v2.5" stroke="#B0B0B0" stroke-width="1"/><path d="M1173.0 687.8 v2.5" stroke="#B0B0B0" stroke-width="1"/><path d="M1188.7 687.8 v2.5" stroke="#B0B0B0" stroke-width="1"/><path d="M1204.3 687.8 v4.5" stroke="#7A7A7A" stroke-width="1"/><path d="M1219.9 687.8 v2.5" stroke="#B0B0B0" stroke-width="1"/><path d="M1235.5 687.8 v2.5" stroke="#B0B0B0" stroke-width="1"/><path d="M1251.2 687.8 v2.5" stroke="#B0B0B0" stroke-width="1"/><path d="M1266.8 687.8 v4.5" stroke="#7A7A7A" stroke-width="1"/><path d="M1282.4 687.8 v2.5" stroke="#B0B0B0" stroke-width="1"/><path d="M1298.0 687.8 v2.5" stroke="#B0B0B0" stroke-width="1"/><path d="M1313.7 687.8 v2.5" stroke="#B0B0B0" stroke-width="1"/><path d="M1329.3 687.8 v4.5" stroke="#7A7A7A" stroke-width="1"/><path d="M1344.9 687.8 v2.5" stroke="#B0B0B0" stroke-width="1"/><path d="M1360.5 687.8 v2.5" stroke="#B0B0B0" stroke-width="1"/><path d="M819.3 589.4 V603.4" stroke="#fff" stroke-width="1.15"/><text x="819.3" y="585.5" font-size="10.7" fill="#484848" text-anchor="middle">43</text><path d="M839.4 595.3 V609.3" stroke="#fff" stroke-width="1.15"/><text x="839.4" y="591.4" font-size="10.7" fill="#484848" text-anchor="middle">40</text><path d="M881.8 569.9 V583.9" stroke="#fff" stroke-width="1.15"/><text x="881.8" y="566.0" font-size="10.7" fill="#484848" text-anchor="middle">53</text><path d="M901.9 579.7 V593.7" stroke="#fff" stroke-width="1.15"/><text x="901.9" y="575.8" font-size="10.7" fill="#484848" text-anchor="middle">48</text><path d="M944.3 573.8 V587.8" stroke="#fff" stroke-width="1.15"/><text x="944.3" y="569.9" font-size="10.7" fill="#484848" text-anchor="middle">51</text><path d="M964.4 583.6 V597.6" stroke="#fff" stroke-width="1.15"/><text x="964.4" y="579.7" font-size="10.7" fill="#484848" text-anchor="middle">46</text><path d="M1006.8 599.2 V613.2" stroke="#fff" stroke-width="1.15"/><text x="1006.8" y="595.3" font-size="10.7" fill="#484848" text-anchor="middle">38</text><path d="M1069.3 579.7 V593.7" stroke="#fff" stroke-width="1.15"/><text x="1069.3" y="575.8" font-size="10.7" fill="#484848" text-anchor="middle">48</text><path d="M1089.4 583.6 V597.6" stroke="#fff" stroke-width="1.15"/><text x="1089.4" y="579.7" font-size="10.7" fill="#484848" text-anchor="middle">46</text><path d="M1131.8 573.8 V587.8" stroke="#fff" stroke-width="1.15"/><text x="1131.8" y="569.9" font-size="10.7" fill="#484848" text-anchor="middle">51</text><path d="M1151.9 579.7 V593.7" stroke="#fff" stroke-width="1.15"/><text x="1151.9" y="575.8" font-size="10.7" fill="#484848" text-anchor="middle">48</text><path d="M1194.3 595.3 V609.3" stroke="#fff" stroke-width="1.15"/><text x="1194.3" y="591.4" font-size="10.7" fill="#484848" text-anchor="middle">40</text><path d="M1214.4 603.1 V617.1" stroke="#fff" stroke-width="1.15"/><text x="1214.4" y="599.2" font-size="10.7" fill="#484848" text-anchor="middle">36</text><path d="M1256.8 568.0 V582.0" stroke="#fff" stroke-width="1.15"/><text x="1256.8" y="564.1" font-size="10.7" fill="#484848" text-anchor="middle">54</text><path d="M1276.9 573.8 V587.8" stroke="#fff" stroke-width="1.15"/><text x="1276.9" y="569.9" font-size="10.7" fill="#484848" text-anchor="middle">51</text><path d="M1319.3 577.8 V591.8" stroke="#fff" stroke-width="1.15"/><text x="1319.3" y="573.9" font-size="10.7" fill="#484848" text-anchor="middle">49</text><path d="M1339.4 585.5 V599.5" stroke="#fff" stroke-width="1.15"/><text x="1339.4" y="581.6" font-size="10.7" fill="#484848" text-anchor="middle">45</text><text x="829.3" y="701.5" font-size="10.7" fill="#484848" text-anchor="middle">1</text><text x="891.8" y="701.5" font-size="10.7" fill="#484848" text-anchor="middle">2</text><text x="954.3" y="701.5" font-size="10.7" fill="#484848" text-anchor="middle">3</text><text x="1016.8" y="701.5" font-size="10.7" fill="#484848" text-anchor="middle">10</text><text x="1079.3" y="701.5" font-size="10.7" fill="#484848" text-anchor="middle">11</text><text x="1141.8" y="701.5" font-size="10.7" fill="#484848" text-anchor="middle">12</text><text x="1204.3" y="701.5" font-size="10.7" fill="#484848" text-anchor="middle">13</text><text x="1266.8" y="701.5" font-size="10.7" fill="#484848" text-anchor="middle">17</text><text x="1329.3" y="701.5" font-size="10.7" fill="#484848" text-anchor="middle">18</text><text x="1079" y="532.4" font-size="10.7" fill="#4646FF" text-anchor="middle">GLONASS卫星信噪比</text><rect x="1204.6" y="522.6" width="66.7" height="14.8" fill="#111"/><rect x="1202.3" y="520.3" width="66.7" height="14.8" fill="#fff" stroke="#222" stroke-width="1"/><rect x="1206.5" y="523.3" width="9.6" height="9.2" fill="#F59B89" stroke="#3C3C3C" stroke-width="1"/><text x="1221.1" y="531.9" font-size="10.7" fill="#404040">R1</text><rect x="1238.1" y="523.3" width="9.6" height="9.2" fill="#34CB5B" stroke="#3C3C3C" stroke-width="1"/><text x="1252.7" y="531.9" font-size="10.7" fill="#404040">R2</text></svg>
<div class="a hdr" style="left:145px;top:725.7px;width:1251px;height:22px;"><div class="t" style="left:3px;top:5.6px;font-size:11.4px">输出</div><svg class="a" style="left:1209px;top:5.5px" width="40" height="12" viewBox="0 0 40 12"><path d="M0.2 2.8 H10 L5.1 8.4 Z" fill="#000"/><path d="M17 0.9 H22 V5.8 M17.6 0.9 V5.8 M16 6.3 H23.6 M19.8 6.3 V9.3" fill="none" stroke="#111" stroke-width="1.25"/><rect x="20.2" y="0.9" width="1.8" height="5" fill="#111"/><path d="M30 1.2 L37.8 8.2 M37.8 1.2 L30 8.2" stroke="#111" stroke-width="1.7"/></svg></div>
<div class="a" id="op" style="left:145px;top:747.7px;width:1251px;height:151.3px;background:#fff;overflow:hidden">
<div class="a" style="left:0;top:0;width:1233.7px;height:20.2px;background:#FAFAFA;border-bottom:1px solid #E4E4E4;box-sizing:border-box"></div>
<div class="a" style="left:138.3px;top:0;width:1px;height:20.2px;background:#DEDEDE"></div>
<div class="a" style="left:972px;top:0;width:1px;height:20.2px;background:#DEDEDE"></div>
<div class="a" style="left:138.3px;top:19.7px;width:1px;height:113px;background:#F6F6F6"></div>
<div class="a" style="left:972px;top:19.7px;width:1px;height:113px;background:#F6F6F6"></div>
<div class="t" style="left:4px;top:4.6px;font-size:11.8px;color:#333">信息等级</div>
<div class="t" style="left:530.5px;top:4.6px;font-size:11.8px;color:#333">信息说明</div>
<div class="t" style="left:1091px;top:4.6px;font-size:11.8px;color:#333">时间</div>
<div class="a" style="left:0;top:38.1px;width:1233.7px;height:1px;background:#F2F2F2"></div>
<div class="t" style="left:4px;top:24.0px;font-size:11.8px;color:#222">信息</div>
<div class="t msg" style="left:357px;width:400px;text-align:center;top:23.2px;font-size:13px;color:#111">G04 <span style="font-size:11.8px">统计周期内固定解个数</span>600,<span style="font-size:11.8px">解算次数</span>600,<span style="font-size:11.8px">固定率为</span>100%</div>
<div class="t tm" style="left:1003.5px;width:200px;text-align:center;top:23.2px;font-size:13px;color:#111">2019-12-23 09:30:07</div>
<div class="a" style="left:0;top:56.7px;width:1233.7px;height:1px;background:#F2F2F2"></div>
<div class="t" style="left:4px;top:42.6px;font-size:11.8px;color:#222">信息</div>
<div class="t msg" style="left:357px;width:400px;text-align:center;top:41.8px;font-size:13px;color:#111">G08 <span style="font-size:11.8px">统计周期内固定解个数</span>600,<span style="font-size:11.8px">解算次数</span>600,<span style="font-size:11.8px">固定率为</span>100%</div>
<div class="t tm" style="left:1003.5px;width:200px;text-align:center;top:41.8px;font-size:13px;color:#111">2019-12-23 09:30:06</div>
<div class="a" style="left:0;top:75.3px;width:1233.7px;height:1px;background:#F2F2F2"></div>
<div class="t" style="left:4px;top:61.2px;font-size:11.8px;color:#222">信息</div>
<div class="t msg" style="left:357px;width:400px;text-align:center;top:60.4px;font-size:13px;color:#111">G07 <span style="font-size:11.8px">统计周期内固定解个数</span>600,<span style="font-size:11.8px">解算次数</span>600,<span style="font-size:11.8px">固定率为</span>100%</div>
<div class="t tm" style="left:1003.5px;width:200px;text-align:center;top:60.4px;font-size:13px;color:#111">2019-12-23 09:30:06</div>
<div class="a" style="left:0;top:94.0px;width:1233.7px;height:1px;background:#F2F2F2"></div>
<div class="t" style="left:4px;top:79.9px;font-size:11.8px;color:#222">信息</div>
<div class="t msg" style="left:357px;width:400px;text-align:center;top:79.1px;font-size:13px;color:#111">G06 <span style="font-size:11.8px">统计周期内固定解个数</span>600,<span style="font-size:11.8px">解算次数</span>600,<span style="font-size:11.8px">固定率为</span>100%</div>
<div class="t tm" style="left:1003.5px;width:200px;text-align:center;top:79.1px;font-size:13px;color:#111">2019-12-23 09:30:06</div>
<div class="a" style="left:0;top:112.6px;width:1233.7px;height:1px;background:#F2F2F2"></div>
<div class="t" style="left:4px;top:98.5px;font-size:11.8px;color:#222">信息</div>
<div class="t msg" style="left:357px;width:400px;text-align:center;top:97.7px;font-size:13px;color:#111">G05 <span style="font-size:11.8px">统计周期内固定解个数</span>600,<span style="font-size:11.8px">解算次数</span>600,<span style="font-size:11.8px">固定率为</span>100%</div>
<div class="t tm" style="left:1003.5px;width:200px;text-align:center;top:97.7px;font-size:13px;color:#111">2019-12-23 09:30:06</div>
<div class="a" style="left:0;top:131.2px;width:1233.7px;height:1px;background:#F2F2F2"></div>
<div class="t" style="left:4px;top:117.1px;font-size:11.8px;color:#222">信息</div>
<div class="t msg" style="left:357px;width:400px;text-align:center;top:116.3px;font-size:13px;color:#111">G01 <span style="font-size:11.8px">统计周期内固定解个数</span>600,<span style="font-size:11.8px">解算次数</span>600,<span style="font-size:11.8px">固定率为</span>100%</div>
<div class="t tm" style="left:1003.5px;width:200px;text-align:center;top:116.3px;font-size:13px;color:#111">2019-12-23 09:30:06</div>
<div class="a" style="left:1233.7px;top:0;width:17.3px;height:133px;background:#fff;border-left:1px solid #E2E2E2;box-sizing:border-box"></div>
<svg class="a" style="left:1233.7px;top:0" width="18" height="134" viewBox="0 0 18 134"><path d="M5.4 12 L9 8.3 L12.6 12" fill="none" stroke="#555" stroke-width="1.3"/><rect x="0.8" y="17.6" width="16" height="16.3" fill="#DCDCDC" stroke="#C8C8C8" stroke-width="1"/><path d="M5 22.2 H13 M5 24.6 H13 M5 27 H13 M5 29.4 H13" stroke="#666" stroke-width="1.3"/><path d="M0 116.5 H18" stroke="#E2E2E2" stroke-width="1"/><path d="M5.4 122.4 L9 126.1 L12.6 122.4" fill="none" stroke="#555" stroke-width="1.3"/></svg>
<div class="a" style="left:0;top:132.8px;width:1251px;height:18.5px;background:#F0F0F0"></div>
<div class="a" style="left:0;top:133.3px;width:1233px;height:18px;background:#DCDCDC;border-top:1px solid #C6C6C6;box-sizing:border-box"></div>
<div class="a" style="left:0.5px;top:134px;width:16.5px;height:17.3px;background:#fff;border-right:1px solid #C6C6C6;box-sizing:border-box"></div>
<div class="a" style="left:1212.5px;top:134px;width:20.5px;height:17.3px;background:#F0F0F0"></div>
<div class="a" style="left:1216.5px;top:134px;width:16.5px;height:17.3px;background:#fff;border-left:1px solid #D0D0D0;box-sizing:border-box"></div>
<svg class="a" style="left:0;top:133px" width="1251" height="19" viewBox="0 0 1251 19"><path d="M10.8 5.6 L7 9.4 L10.8 13.2" fill="none" stroke="#555" stroke-width="1.3"/><path d="M1222.6 5.6 L1226.4 9.4 L1222.6 13.2" fill="none" stroke="#555" stroke-width="1.3"/><path d="M611.5 5.5 V13 M614 5.5 V13 M616.5 5.5 V13 M619 5.5 V13" stroke="#666" stroke-width="1.3"/></svg>
</div>
</body></html>
